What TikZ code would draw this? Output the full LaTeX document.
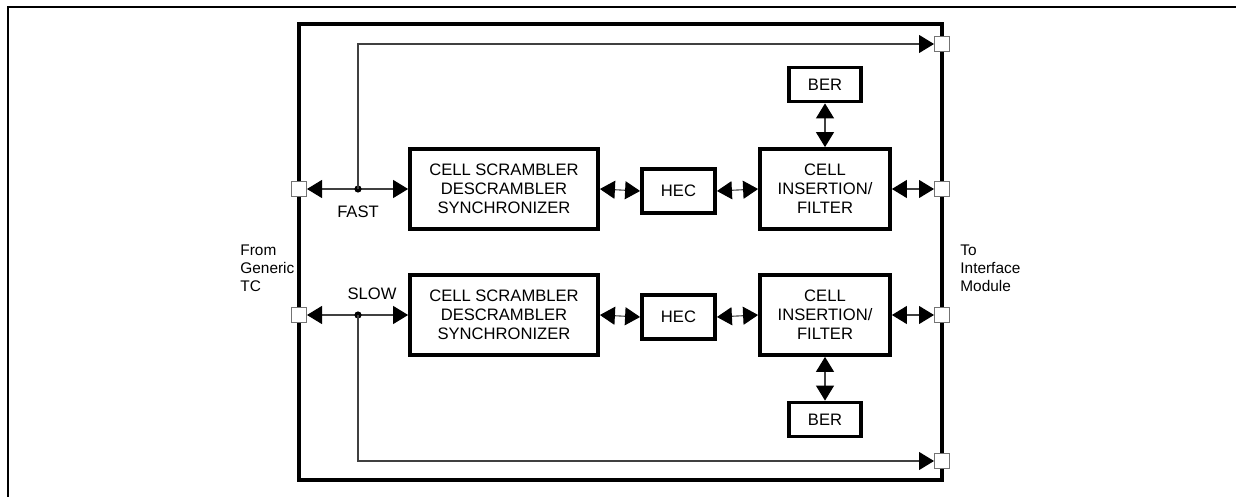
\documentclass[tikz,border=0pt]{standalone}
\usepackage{fontspec}
\setmainfont{Liberation Sans}
\usetikzlibrary{arrows.meta}
\begin{document}
\begin{tikzpicture}[x=0.5pt,y=-0.5pt,
  blk/.style={draw,line width=1.9pt,inner sep=0pt,align=center,font=\fontsize{8.3}{9.5}\selectfont},
  port/.style={draw=black!55,fill=white,line width=0.5pt,minimum size=7.5pt,inner sep=0pt},
  conn/.style={draw=black!75,line width=0.55pt},
  tip/.style={-{Triangle[length=7.5pt,width=9pt,color=black]}},
  dtip/.style={{Triangle[length=7.5pt,width=9pt,color=black]}-{Triangle[length=7.5pt,width=9pt,color=black]}},
  lbl/.style={inner sep=0pt,font=\fontsize{8.3}{9.5}\selectfont},
  side/.style={inner sep=0pt,align=left,anchor=north west,font=\fontsize{7.7}{9}\selectfont}]
\useasboundingbox (0,0) rectangle (1236,497);
% outer frame
\draw[line width=1pt] (8,497) -- (8,7) -- (1236,7);
% main box
\node[draw,line width=1.9pt,minimum width=321.5pt,minimum height=228pt,inner sep=0pt] (main) at (620.5,252) {};
% blocks upper
\node[blk,minimum width=94pt,minimum height=40pt] (s1) at (504,189) {CELL SCRAMBLER\\DESCRAMBLER\\SYNCHRONIZER};
\node[blk,minimum width=36.5pt,minimum height=22pt] (h1) at (678.5,191) {HEC};
\node[blk,minimum width=65pt,minimum height=40pt] (c1) at (825,189) {CELL\\INSERTION/\\FILTER};
\node[blk,minimum width=36pt,minimum height=17pt] (b1) at (825,84.5) {BER};
% blocks lower
\node[blk,minimum width=94pt,minimum height=40pt] (s2) at (504,315) {CELL SCRAMBLER\\DESCRAMBLER\\SYNCHRONIZER};
\node[blk,minimum width=36.5pt,minimum height=22pt] (h2) at (678.5,317) {HEC};
\node[blk,minimum width=65pt,minimum height=40pt] (c2) at (825,315) {CELL\\INSERTION/\\FILTER};
\node[blk,minimum width=36pt,minimum height=17pt] (b2) at (825,419.5) {BER};
% ports
\node[port] (pl1) at (299,189) {};
\node[port] (pl2) at (299,315) {};
\node[port] (pr0) at (942,44) {};
\node[port] (pr1) at (942,189) {};
\node[port] (pr2) at (942,315) {};
\node[port] (pr3) at (942,461) {};
% junctions
\coordinate (j1) at (358,189);
\coordinate (j2) at (358,315);
\coordinate (t1) at (358,44);
\coordinate (t2) at (358,461);
% connectors upper
\draw[conn,dtip] (pl1.east) -- (s1.west);
\fill[black] (j1) circle (1.8pt);
\draw[conn,tip] (j1) -- (t1) -- (pr0.west);
\draw[conn,dtip] (s1.east) -- (h1.west);
\draw[conn,dtip] (h1.east) -- (c1.west);
\draw[conn,dtip] (c1.east) -- (pr1.west);
\draw[conn,dtip] (b1.south) -- (c1.north);
% connectors lower
\draw[conn,dtip] (pl2.east) -- (s2.west);
\fill[black] (j2) circle (1.8pt);
\draw[conn,tip] (j2) -- (t2) -- (pr3.west);
\draw[conn,dtip] (s2.east) -- (h2.west);
\draw[conn,dtip] (h2.east) -- (c2.west);
\draw[conn,dtip] (c2.east) -- (pr2.west);
\draw[conn,dtip] (b2.north) -- (c2.south);
% labels
\node[lbl] (fast) at (358,212) {FAST};
\node[lbl] (slow) at (372,294) {SLOW};
\node[side] (from) at (240,245) {From\\Generic\\TC};
\node[side] (to) at (960,245) {To\\Interface\\Module};
\end{tikzpicture}
\end{document}
